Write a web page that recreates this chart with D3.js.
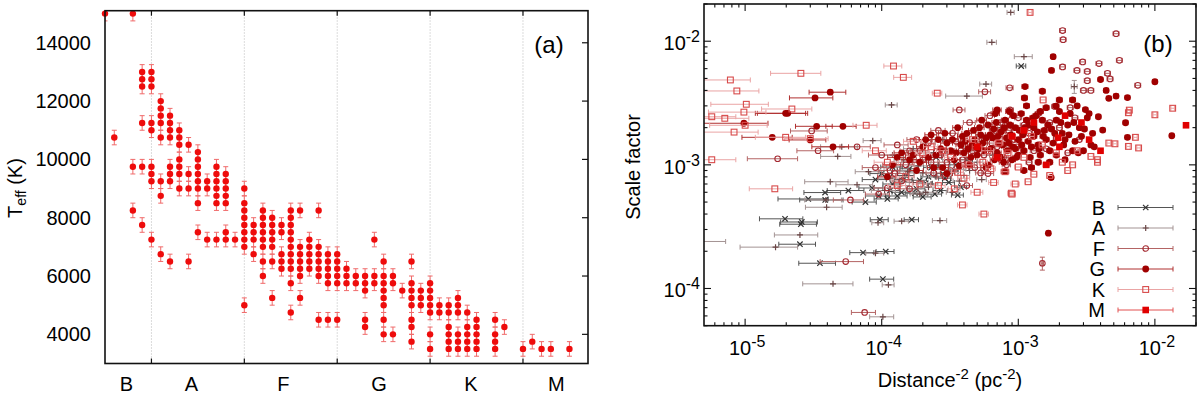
<!DOCTYPE html>
<html lang="en">
<head>
<meta charset="utf-8">
<title>Teff and scale factor</title>
<script src="https://cdn.jsdelivr.net/npm/d3@7"></script>
<style>
  body { margin: 0; background: #fff; }
  svg text { font-family: "Liberation Sans", Arial, sans-serif; fill: #000; }
</style>
</head>
<body>
<div id="chart"></div>
<script>
// ---------------------------------------------------------------
// panel (a) data: Teff per spectral subtype (B0 = 0, A0 = 10, ...)
var classNames = ["B", "A", "F", "G", "K", "M"];
var classLabelAt = [7.3, 14.3, 24.2, 34.5, 44.4, 53.6];
var classBounds = [10, 20, 30, 40, 50];
var teffTicks = [4000, 6000, 8000, 10000, 12000, 14000];
var teffErr = 250;
var teffBySubtype = [
  [5, [15000]],
  [6, [10750]],
  [8, [15000, 9750, 8250]],
  [9, [13000, 12750, 12500, 11250, 9750, 7750]],
  [10, [13000, 12750, 12500, 11250, 11000, 9750, 9500, 9250, 7250]],
  [11, [12000, 11750, 11500, 11250, 10750, 9250, 8750, 6750]],
  [12, [11500, 11250, 11000, 10750, 9750, 9500, 9250, 6500]],
  [13, [11000, 10750, 10500, 10000, 9750, 9500, 9000]],
  [14, [10500, 9500, 9000, 6500]],
  [15, [10250, 10000, 9750, 9500, 9250, 9000, 8500, 7500]],
  [16, [9250, 9000, 7250]],
  [17, [9750, 9500, 9250, 9000, 8750, 8500, 7250]],
  [18, [9500, 9250, 9000, 8750, 8500, 7500, 7250]],
  [19, [7250]],
  [20, [9000, 8500, 8250, 8000, 7750, 7500, 7250, 7000, 5000]],
  [21, [7750, 7500, 7250, 6750]],
  [22, [8250, 8000, 7750, 7500, 7250, 7000, 6500, 6000]],
  [23, [8000, 7750, 7500, 7250, 7000, 6500, 5250]],
  [24, [7750, 7500, 6750, 6500, 6250]],
  [25, [8250, 8000, 7750, 7500, 7250, 7000, 6750, 6500, 6250, 5750, 4750]],
  [26, [8250, 7000, 6750, 6500, 6250, 6000, 5250]],
  [27, [7250, 7000, 6750, 6500, 6250]],
  [28, [8250, 7000, 6750, 6500, 6250, 6000, 4500]],
  [29, [6750, 6500, 6250, 6000, 5750, 4500]],
  [30, [6750, 6500, 6250, 6000, 5750, 4500]],
  [31, [6250, 6000, 5750]],
  [32, [6000, 5750]],
  [33, [6000, 5750, 5500, 4500, 4250]],
  [34, [7250, 6000, 5750]],
  [35, [6500, 6000, 5750, 5500, 5250, 5000, 4500, 4000]],
  [36, [6000, 5750, 4000]],
  [37, [5500]],
  [38, [6500, 5750, 5500, 5250, 5000, 4500, 4250, 3750]],
  [39, [5500, 5250, 5000]],
  [40, [5750, 5500, 5250, 5000, 4750, 4000, 3500]],
  [41, [5000, 4750]],
  [42, [5000, 4750, 4250, 4000, 3750, 3500]],
  [43, [5250, 5000, 4750, 4000, 3750, 3500]],
  [44, [4750, 4250, 4000, 3750, 3500]],
  [45, [4500, 4250, 4000, 3750, 3500]],
  [47, [4500, 4000, 3750, 3500]],
  [48, [4250]],
  [50, [3500]],
  [51, [3750]],
  [52, [3500]],
  [53, [3500]],
  [55, [3500]]
];

// ---------------------------------------------------------------
// panel (b) data: [distance^-2, scale factor, rel. x error, rel. y error]
var starsB = [
  [1.96e-5,3.66e-4,.35],[2.56e-5,3.31e-4,.3],[2.6e-5,3.45e-4,.3],[2.52e-5,2.28e-4,.3],
  [3.53e-5,1.6e-4,.3],[7.3e-5,1.95e-4,.2],[1.07e-4,1.99e-4,.15],[1.02e-4,1.19e-4,.2],
  [9.7e-5,3.6e-4,.15],[3.86e-5,5.2e-4,.35],[2.9e-5,5.3e-4,.4],[7.6e-5,5.0e-4,.2],
  [3.85e-5,5.97e-4,.3],[5.7e-5,6.2e-4,.3],[1.66e-4,3.6e-4,.12],[1.05e-3,6.3e-3,.08],
  [1.2e-4,7e-4,.15],[1.5e-4,8.2e-4,.15],[1.9e-4,7.5e-4,.12],[2.3e-4,9.5e-4,.12],
  [1.4e-4,6.0e-4,.15],[2.8e-4,8.5e-4,.1],[3.5e-4,1.0e-3,.1],[1.1e-4,5.3e-4,.2],
  [1.8e-4,6.4e-4,.15],[2.5e-4,1.15e-3,.1],[3.1e-4,7.2e-4,.1],[4.2e-4,1.1e-3,.1],
  [9.0e-5,7.6e-4,.2],[8.5e-5,6.5e-4,.2],[1.0e-4,8.5e-4,.18],[1.3e-4,5.6e-4,.18],
  [1.6e-4,9.3e-4,.15],[2.0e-4,5.5e-4,.15],[2.2e-4,8.0e-4,.12],[2.7e-4,6.2e-4,.12],
  [3.3e-4,8.8e-4,.1],[3.8e-4,6.6e-4,.1],[1.2e-4,9.6e-4,.18],[9.5e-5,5.6e-4,.2],
  [1.15e-4,6.2e-4,.18],[1.45e-4,7.6e-4,.15],[1.75e-4,5.9e-4,.15],[2.1e-4,7.1e-4,.12],
  [2.45e-4,5.8e-4,.12],[2.9e-4,7.8e-4,.1],[3.6e-4,5.7e-4,.1]
];
var starsA = [
  [4.76e-5,1.17e-3,.25],[5.1e-5,1.40e-3,.3],[8.6e-5,1.57e-3,.15],[4.2e-5,7.3e-4,.35],
  [6.6e-5,6.9e-4,.3],[3.95e-5,4.54e-4,.3],[3.9e-5,5.2e-4,.3],[2.52e-5,2.71e-4,.35],
  [1.67e-5,2.16e-4,.45],[4.4e-5,1.09e-4,.4],[1.12e-4,1.07e-4,.1],[1.02e-4,5.9e-5,.2],
  [9.0e-5,1.93e-4,.15],[9.4e-5,3.4e-4,.1],[1.4e-4,3.5e-4,.12],[2.67e-4,3.54e-4,.12],
  [8.8e-4,1.71e-2,.06],[6.4e-4,9.8e-3,.08],[1.10e-3,7.5e-3,.15],[4.2e-4,3.6e-3,.3],
  [5.8e-4,4.5e-3,.1],[1.18e-4,3.05e-3,.1],[4.5e-6,2.4e-4,.6],[2.57e-3,4.3e-3,.05,.12],
  [1.3e-4,9e-4,.2],[1.6e-4,1.05e-3,.2],[2.0e-4,8.6e-4,.2],[2.4e-4,1.25e-3,.15],
  [1.7e-4,7.2e-4,.2],[3.0e-4,1.3e-3,.12],[3.6e-4,9.2e-4,.15],[4.5e-4,1.35e-3,.1],
  [5.5e-4,1.7e-3,.1],[2.1e-4,6.0e-4,.2],[1.2e-4,1.2e-3,.2],[6.5e-4,1.2e-3,.1],
  [7.5e-4,2.0e-3,.1],[2.8e-4,1.6e-3,.12],[8.0e-5,8.8e-4,.2],[1.05e-4,6.2e-4,.2],
  [1.45e-4,1.1e-3,.15],[1.9e-4,5.8e-4,.15],[2.3e-4,7.0e-4,.12],[2.6e-4,1.0e-3,.12],
  [3.3e-4,6.0e-4,.1],[4.0e-4,8.2e-4,.1],[5.0e-4,1.05e-3,.1],[1.7e-4,1.35e-3,.15],
  [1.15e-4,7.8e-4,.18],[1.35e-4,6.8e-4,.18],[1.55e-4,8.8e-4,.15],[1.85e-4,9.8e-4,.15],
  [2.2e-4,6.6e-4,.12],[2.5e-4,8.0e-4,.12],[3.1e-4,1.1e-3,.1],[3.7e-4,7.4e-4,.1],
  [4.4e-4,9.0e-4,.1],[5.4e-4,7.6e-4,.08]
];
var starsF = [
  [3.07e-5,1.88e-3,.3],[3.42e-5,1.30e-3,.3],[6.6e-5,1.40e-3,.25],[1.73e-5,1.12e-3,.4],
  [5.45e-5,1.65e-4,.35],[7.5e-5,6.4e-5,.2],[5.9e-5,5.2e-4,.25],[1.5e-3,1.6e-4,.02,.12],
  [2.11e-3,1.22e-2,.05],[2.13e-3,1.03e-2,.05],[5.2e-3,1.15e-2,.05],[5.5e-3,7.0e-3,.05],
  [2.11e-3,6.2e-3,.05],[2.96e-3,6.8e-3,.05],[2.69e-3,5.8e-3,.05],[3.2e-3,5.7e-3,.05],
  [3.9e-3,6.6e-3,.05],[3.2e-3,4.8e-3,.05],[4.5e-3,5.5e-3,.05],[4.7e-3,4.95e-3,.05],
  [7.5e-3,4.4e-3,.05],[3.0e-3,4.0e-3,.05],[3.4e-3,4.0e-3,.05],[8.65e-4,4.2e-3,.06],
  [5.7e-4,3.9e-3,.1],[3.7e-4,2.78e-3,.1],[8.7e-4,2.78e-3,.06],[1.85e-3,2.97e-3,.05],
  [1.0e-4,1.2e-3,.2],[1.3e-4,1.45e-3,.2],[1.25e-4,8.5e-4,.2],[1.6e-4,1.3e-3,.15],
  [2.0e-4,1.1e-3,.15],[2.2e-4,1.5e-3,.12],[2.6e-4,1.9e-3,.12],[3.3e-4,1.8e-3,.1],
  [3.8e-4,1.3e-3,.1],[4.4e-4,2.2e-3,.1],[5.2e-4,1.55e-3,.1],[6.2e-4,2.5e-3,.08],
  [7.0e-4,1.4e-3,.08],[8.5e-4,1.9e-3,.07],[1.0e-3,2.4e-3,.06],[1.2e-3,1.8e-3,.06],
  [1.4e-3,2.6e-3,.05],[1.7e-3,2.2e-3,.05],[2.4e-3,2.9e-3,.05],[1.6e-4,6.4e-4,.15],
  [9.0e-5,9.5e-4,.2],[2.9e-4,8.0e-4,.12],[4.8e-4,9.5e-4,.1],[6.0e-4,8.5e-4,.1],
  [1.1e-4,6.5e-4,.2],[9.5e-5,5.8e-4,.2],[1.4e-4,7.4e-4,.15],[1.8e-4,1.6e-3,.15],
  [2.4e-4,8.6e-4,.12],[3.0e-4,1.05e-3,.12],[3.5e-4,1.55e-3,.1],[4.2e-4,6.8e-4,.1],
  [5.6e-4,1.2e-3,.1],[6.8e-4,1.9e-3,.08],[7.8e-4,1.15e-3,.08],[9.3e-4,1.6e-3,.07],
  [1.1e-3,2.1e-3,.06],[1.3e-3,1.3e-3,.06],[2.0e-3,2.0e-3,.05],[2.6e-3,2.4e-3,.05],
  [1.15e-4,9.0e-4,.18],[1.5e-4,1.0e-3,.15],[1.9e-4,1.3e-3,.15],[2.3e-4,1.05e-3,.12],
  [2.7e-4,1.2e-3,.12],[3.2e-4,9.0e-4,.1],[3.9e-4,1.1e-3,.1],[4.6e-4,1.3e-3,.1],
  [5.3e-4,8.6e-4,.08],[6.4e-4,1.5e-3,.08],[7.4e-4,2.2e-3,.07],[8.2e-4,1.0e-3,.07],
  [9.8e-4,1.4e-3,.06],[1.2e-3,1.05e-3,.05],[1.6e-3,1.35e-3,.05],[1.9e-3,1.65e-3,.05],
  [2.3e-3,1.25e-3,.04],[2.8e-3,1.6e-3,.04]
];
var starsG = [
  [4.2e-5,3.87e-3,.3],[3.25e-5,3.48e-3,.35],[1.98e-5,2.61e-3,.4],[2.05e-5,2.61e-3,.4],
  [9.8e-6,2.17e-3,.5],[3.34e-5,2.05e-3,.3],[5.2e-5,2.05e-3,.25],[1.58e-5,1.67e-3,.4],
  [3.0e-5,1.59e-3,.3],[4.4e-5,1.40e-3,.3],[1.66e-3,2.8e-4,.03],[1.8e-3,7.5e-3,.04],
  [1.75e-3,5.8e-3,.04],[4.0e-3,4.9e-3,.04],[1.0e-2,4.7e-3,.04],[1.12e-3,4.3e-3,.05],
  [4.4e-3,4.0e-3,.04],[1.5e-3,3.94e-3,.05],[1.11e-3,3.48e-3,.05],[5.2e-3,3.6e-3,.04],
  [4.6e-3,3.45e-3,.04],[6.3e-3,3.5e-3,.04],[1.89e-3,2.99e-3,.05],[1.33e-2,1.72e-3,.03],
  [6.1e-3,2.19e-3,.04],[6.3e-3,1.67e-3,.04],[4.15e-3,1.91e-3,.04],[3.86e-3,2.45e-3,.04],
  [1.74e-3,7.9e-4,.04],[7.0e-4,2.78e-3,.07],[2.0e-3,3.35e-3,.05],[2.5e-3,3.35e-3,.05],
  [2.0e-4,1.4e-3,.1],[2.5e-4,1.2e-3,.1],[3.0e-4,1.5e-3,.1],[3.4e-4,1.1e-3,.1],
  [3.9e-4,1.7e-3,.08],[4.3e-4,1.35e-3,.08],[4.7e-4,1.9e-3,.08],[5.0e-4,1.2e-3,.08],
  [5.5e-4,1.5e-3,.08],[6.0e-4,2.1e-3,.07],[6.5e-4,1.65e-3,.07],[7.0e-4,1.25e-3,.07],
  [7.5e-4,1.85e-3,.07],[8.0e-4,2.3e-3,.06],[8.5e-4,1.5e-3,.06],[9.0e-4,1.1e-3,.06],
  [9.5e-4,2.0e-3,.06],[1.0e-3,1.6e-3,.06],[1.05e-3,2.6e-3,.05],[1.1e-3,1.3e-3,.05],
  [1.2e-3,2.1e-3,.05],[1.3e-3,1.7e-3,.05],[1.35e-3,2.5e-3,.05],[1.45e-3,1.2e-3,.05],
  [1.55e-3,1.9e-3,.05],[1.6e-3,2.9e-3,.05],[1.8e-3,1.5e-3,.05],[1.9e-3,2.3e-3,.05],
  [2.1e-3,1.8e-3,.04],[2.2e-3,1.1e-3,.04],[2.4e-3,2.6e-3,.04],[2.6e-3,1.55e-3,.04],
  [2.8e-3,2.0e-3,.04],[3.0e-3,1.3e-3,.04],[3.2e-3,2.4e-3,.04],[3.5e-3,1.8e-3,.04],
  [1.6e-4,1.1e-3,.12],[2.8e-4,9.5e-4,.1],[5.8e-4,9.5e-4,.08],[1.25e-3,9.5e-4,.05],
  [1.7e-3,1.05e-3,.05],[6.8e-4,2.6e-3,.07],[3.6e-4,2.0e-3,.08],[2.3e-4,1.75e-3,.1],
  [1.15e-3,3.0e-3,.05],[2.7e-3,3.0e-3,.04],[1.4e-3,1.45e-3,.05],[9.5e-4,1.35e-3,.06],
  [5.3e-4,1.75e-3,.08],[7.8e-4,1.05e-3,.07],[1.2e-4,1.0e-3,.15],[1.4e-4,1.25e-3,.12],
  [1.8e-4,9.0e-4,.12],[2.2e-4,1.15e-3,.1],[2.6e-4,1.6e-3,.1],[3.2e-4,1.3e-3,.1],
  [3.7e-4,9.8e-4,.08],[4.1e-4,1.55e-3,.08],[4.5e-4,1.15e-3,.08],[5.2e-4,2.0e-3,.08],
  [5.6e-4,1.3e-3,.08],[6.2e-4,1.75e-3,.07],[6.7e-4,1.1e-3,.07],[7.2e-4,1.5e-3,.07],
  [7.9e-4,2.0e-3,.06],[8.3e-4,1.3e-3,.06],[8.8e-4,1.75e-3,.06],[9.2e-4,2.5e-3,.06],
  [1.0e-3,1.2e-3,.05],[1.08e-3,1.75e-3,.05],[1.15e-3,2.3e-3,.05],[1.25e-3,1.4e-3,.05],
  [1.3e-3,2.0e-3,.05],[1.5e-3,2.3e-3,.05],[1.6e-3,1.6e-3,.05],[1.75e-3,1.95e-3,.05],
  [2.0e-3,2.7e-3,.04],[2.3e-3,2.1e-3,.04],[2.5e-3,1.3e-3,.04],[2.9e-3,1.7e-3,.04],
  [3.1e-3,2.8e-3,.04],[3.4e-3,1.45e-3,.04],[1.9e-3,1.2e-3,.05],[1.1e-3,9.0e-4,.05],
  [6.0e-4,1.0e-3,.07],[4.0e-4,1.25e-3,.08],[3.0e-4,8.5e-4,.1],[8.0e-4,8.8e-4,.06],
  [1.4e-3,1.05e-3,.05],[2.2e-3,1.6e-3,.04],
  [1.1e-4,8.0e-4,.15],[1.3e-4,1.15e-3,.15],[1.7e-4,1.2e-3,.12],[1.9e-4,1.05e-3,.12],
  [2.1e-4,1.6e-3,.1],[2.4e-4,9.5e-4,.1],[2.7e-4,1.35e-3,.1],[2.9e-4,1.8e-3,.1],
  [3.3e-4,1.6e-3,.1],[3.5e-4,1.25e-3,.08],[3.8e-4,1.45e-3,.08],[4.2e-4,1.8e-3,.08],
  [4.4e-4,1.0e-3,.08],[4.8e-4,1.6e-3,.08],[5.1e-4,1.35e-3,.08],[5.4e-4,2.3e-3,.08],
  [5.8e-4,1.65e-3,.07],[6.3e-4,1.35e-3,.07],[6.6e-4,1.95e-3,.07],[7.1e-4,1.7e-3,.07],
  [7.4e-4,1.15e-3,.07],[7.7e-4,1.45e-3,.06],[8.2e-4,1.65e-3,.06],[8.7e-4,2.1e-3,.06],
  [9.1e-4,1.4e-3,.06],[9.7e-4,1.15e-3,.06],[1.02e-3,1.9e-3,.05],[1.06e-3,1.45e-3,.05],
  [1.12e-3,2.0e-3,.05],[1.18e-3,1.55e-3,.05],[1.22e-3,1.15e-3,.05],[1.28e-3,2.4e-3,.05],
  [1.38e-3,1.85e-3,.05],[1.42e-3,1.35e-3,.05],[1.52e-3,1.7e-3,.05],[1.65e-3,2.1e-3,.05],
  [1.7e-3,1.3e-3,.05],[1.85e-3,1.8e-3,.04],[2.05e-3,2.2e-3,.04],[2.15e-3,1.45e-3,.04],
  [2.35e-3,1.75e-3,.04],[2.55e-3,2.2e-3,.04],[2.75e-3,1.25e-3,.04],[3.05e-3,1.95e-3,.04],
  [3.3e-3,2.6e-3,.04],[3.6e-3,1.4e-3,.04],[8.6e-4,2.7e-3,.06],[1.45e-3,2.7e-3,.05],
  [4.6e-4,1.45e-3,.08],[6.9e-4,2.2e-3,.07]
];
var starsK = [
  [7.8e-6,4.86e-3,.4],[2.56e-5,5.5e-3,.4],[8.7e-6,3.96e-3,.45],[1.02e-5,3.09e-3,.45],
  [2.2e-5,2.83e-3,.4],[9.8e-6,2.67e-3,.45],[5.7e-6,2.45e-3,.5],[7.1e-6,2.38e-3,.5],
  [1.0e-5,2.09e-3,.45],[7.7e-5,2.09e-3,.2],[8.3e-6,1.84e-3,.5],[1.98e-5,1.67e-3,.4],
  [3.0e-5,1.63e-3,.35],[5.7e-6,1.10e-3,.5],[1.65e-5,6.4e-4,.35],[1.22e-3,1.71e-2,.03],
  [6.5e-3,2.77e-3,.03],[6.4e-3,2.64e-3,.03],[1.0e-2,2.54e-3,.03],[1.35e-2,2.87e-3,.03],
  [7.2e-3,1.67e-3,.03],[6.4e-3,1.41e-3,.03],[7.6e-3,1.37e-3,.03],[4.6e-3,1.50e-3,.03],
  [5.1e-3,1.48e-3,.03],[3.8e-3,1.1e-3,.04],[3.8e-3,1.05e-3,.04],[3.4e-3,1.17e-3,.04],
  [1.18e-3,7.3e-4,.05],[8.9e-4,5.9e-4,.06],[5.6e-4,4.0e-4,.08],[3.9e-4,4.74e-4,.08],
  [9.0e-4,5.8e-4,.06],[1.52e-3,3.35e-3,.05],[2.55e-4,3.8e-3,.08],[1.22e-4,6.3e-3,.15],
  [1.44e-4,5.1e-3,.15],[1.1e-4,1.05e-3,.2],[1.5e-4,8.0e-4,.15],[2.0e-4,1.25e-3,.12],
  [2.6e-4,6.8e-4,.12],[3.2e-4,1.15e-3,.1],[4.0e-4,7.8e-4,.1],[4.6e-4,1.6e-3,.1],
  [5.5e-4,1.05e-3,.08],[6.6e-4,7.2e-4,.08],[7.2e-4,1.5e-3,.07],[8.0e-4,8.8e-4,.07],
  [1.1e-3,1.15e-3,.05],[1.3e-3,8.4e-4,.05],[1.9e-3,1.25e-3,.05],[2.3e-3,9.0e-4,.04],
  [2.7e-3,1.3e-3,.04],[1.7e-4,1.55e-3,.15],[9.0e-5,1.3e-3,.2],[2.3e-4,1.4e-3,.12],
  [3.6e-4,8.7e-4,.1],[5.0e-4,6.0e-4,.1],[6.0e-4,1.3e-3,.1],[9.5e-4,7.0e-4,.07],
  [1.5e-3,1.45e-3,.05],[2.1e-3,1.05e-3,.05],[1.3e-4,6.8e-4,.15],[1.9e-4,7.0e-4,.12],
  [2.8e-4,1.3e-3,.1],[3.4e-4,6.4e-4,.1],[4.3e-4,1.0e-3,.1],[6.3e-4,9.3e-4,.08],
  [8.4e-4,1.25e-3,.07],[1.0e-3,9.6e-4,.06],[1.25e-3,1.7e-3,.05],[1.7e-3,8.2e-4,.05],
  [2.5e-3,1.0e-3,.04]
];
var starsM = [
  [1.69e-2,2.09e-3,.03],[1.96e-3,1.66e-3,.04],[5.0e-4,1.4e-3,.08],[9.0e-4,1.7e-3,.06],
  [1.3e-3,2.2e-3,.05],[2.0e-3,1.4e-3,.04],[2.9e-3,2.2e-3,.04],[3.3e-3,1.6e-3,.04],
  [1.6e-3,1.0e-3,.05],[1.1e-3,1.9e-3,.05],[7.0e-4,1.15e-3,.07],[4.0e-3,1.3e-3,.04],
  [2.2e-3,2.5e-3,.04]
];
var scaleTicks = [1e-4, 1e-3, 1e-2];
var distTicks = [1e-5, 1e-4, 1e-3, 1e-2];

// ---------------------------------------------------------------
var width = 1200, height = 394;
var svg = d3.select("#chart").append("svg")
    .attr("width", width)
    .attr("height", height);

//-----------------------------------------
// PANEL (a)
var xa = d3.scaleLinear().domain([5, 57]).range([105, 588]);
var ya = d3.scaleLinear().domain([3000, 15100]).range([363.5, 10.7]);

svg.append("clipPath").attr("id", "clipA")
  .append("rect")
    .attr("x", xa.range()[0]).attr("y", ya.range()[1])
    .attr("width", xa.range()[1] - xa.range()[0])
    .attr("height", ya.range()[0] - ya.range()[1]);

var ga = svg.append("g");

ga.selectAll("line.grid")
  .data(classBounds)
  .enter().append("line")
    .attr("class", "grid")
    .attr("x1", function(d) { return xa(d); })
    .attr("x2", function(d) { return xa(d); })
    .attr("y1", ya.range()[0])
    .attr("y2", ya.range()[1])
    .attr("stroke", "#b8b8b8")
    .attr("stroke-width", 1)
    .attr("stroke-dasharray", "1,2");

var teffPoints = [];
teffBySubtype.forEach(function(c) {
  c[1].forEach(function(t) { teffPoints.push({s: c[0], t: t}); });
});

var bars = ga.append("g").attr("clip-path", "url(#clipA)")
    .attr("stroke", "#f06a6a").attr("stroke-width", 1);
teffPoints.forEach(function(d) {
  var x = xa(d.s), y0 = ya(d.t - teffErr), y1 = ya(d.t + teffErr);
  bars.append("line").attr("x1", x).attr("x2", x).attr("y1", y0).attr("y2", y1);
  bars.append("line").attr("x1", x - 2.5).attr("x2", x + 2.5).attr("y1", y0).attr("y2", y0);
  bars.append("line").attr("x1", x - 2.5).attr("x2", x + 2.5).attr("y1", y1).attr("y2", y1);
});

ga.append("g").selectAll("circle")
  .data(teffPoints)
  .enter().append("circle")
    .attr("cx", function(d) { return xa(d.s); })
    .attr("cy", function(d) { return ya(d.t); })
    .attr("r", 3.2)
    .attr("fill", "#ee0c0c");

// frame and ticks
ga.append("rect")
    .attr("x", xa.range()[0]).attr("y", ya.range()[1])
    .attr("width", xa.range()[1] - xa.range()[0])
    .attr("height", ya.range()[0] - ya.range()[1])
    .attr("fill", "none").attr("stroke", "#111").attr("stroke-width", 1.6);

teffTicks.forEach(function(t) {
  ga.append("line")
    .attr("x1", xa.range()[1]).attr("x2", xa.range()[1] - 6)
    .attr("y1", ya(t)).attr("y2", ya(t))
    .attr("stroke", "#111").attr("stroke-width", 1.2);
  ga.append("text")
    .attr("x", 91).attr("y", ya(t) + 7)
    .attr("text-anchor", "end")
    .attr("font-size", 20)
    .text(t);
});
classBounds.forEach(function(b) {
  ga.append("line")
    .attr("x1", xa(b)).attr("x2", xa(b))
    .attr("y1", ya.range()[0]).attr("y2", ya.range()[0] - 5)
    .attr("stroke", "#111").attr("stroke-width", 1.2);
  ga.append("line")
    .attr("x1", xa(b)).attr("x2", xa(b))
    .attr("y1", ya.range()[1]).attr("y2", ya.range()[1] + 5)
    .attr("stroke", "#111").attr("stroke-width", 1.2);
});
classNames.forEach(function(n, i) {
  ga.append("text")
    .attr("x", xa(classLabelAt[i])).attr("y", 391)
    .attr("text-anchor", "middle")
    .attr("font-size", 20)
    .text(n);
});

var teffTitle = ga.append("text")
    .attr("transform", "translate(22,188) rotate(-90)")
    .attr("text-anchor", "middle")
    .attr("font-size", 20);
teffTitle.append("tspan").text("T");
teffTitle.append("tspan").attr("font-size", 14).attr("dy", 4).text("eff");
teffTitle.append("tspan").attr("dy", -4).text(" (K)");

ga.append("text")
    .attr("x", 549).attr("y", 53)
    .attr("text-anchor", "middle")
    .attr("font-size", 24)
    .text("(a)");

//-----------------------------------------
// PANEL (b)
var xb = d3.scaleLog().domain([5e-6, 2e-2]).range([704, 1196]);
var yb = d3.scaleLog().domain([5e-5, 2e-2]).range([325.7, 4]);

svg.append("clipPath").attr("id", "clipB")
  .append("rect")
    .attr("x", xb.range()[0]).attr("y", yb.range()[1])
    .attr("width", xb.range()[1] - xb.range()[0])
    .attr("height", yb.range()[0] - yb.range()[1]);

var series = [
  {name: "B", data: starsB, shape: "x",      color: "#333333", bar: "#555555"},
  {name: "A", data: starsA, shape: "plus",   color: "#6a4646", bar: "#a39393"},
  {name: "F", data: starsF, shape: "circle", color: "#a42830", bar: "#b46464"},
  {name: "G", data: starsG, shape: "disc",   color: "#a00000", bar: "#b03030"},
  {name: "K", data: starsK, shape: "square", color: "#d84a4a", bar: "#eaa4a4"},
  {name: "M", data: starsM, shape: "box",    color: "#e00000", bar: "#e25050"}
];

function drawSymbol(g, shape, x, y, color) {
  if (shape === "x") {
    g.append("path").attr("d", "M" + (x-2.7) + "," + (y-2.7) + "L" + (x+2.7) + "," + (y+2.7) +
      "M" + (x-2.7) + "," + (y+2.7) + "L" + (x+2.7) + "," + (y-2.7))
      .attr("stroke", color).attr("stroke-width", 1.2).attr("fill", "none");
  } else if (shape === "plus") {
    g.append("path").attr("d", "M" + (x-3) + "," + y + "L" + (x+3) + "," + y +
      "M" + x + "," + (y-3) + "L" + x + "," + (y+3))
      .attr("stroke", color).attr("stroke-width", 1.2).attr("fill", "none");
  } else if (shape === "circle") {
    g.append("circle").attr("cx", x).attr("cy", y).attr("r", 2.8)
      .attr("fill", "none").attr("stroke", color).attr("stroke-width", 1.1);
  } else if (shape === "disc") {
    g.append("circle").attr("cx", x).attr("cy", y).attr("r", 3.4)
      .attr("fill", color);
  } else if (shape === "square") {
    g.append("rect").attr("x", x - 2.9).attr("y", y - 2.9).attr("width", 5.8).attr("height", 5.8)
      .attr("fill", "none").attr("stroke", color).attr("stroke-width", 1.1);
  } else {
    g.append("rect").attr("x", x - 3.3).attr("y", y - 3.3).attr("width", 6.6).attr("height", 6.6)
      .attr("fill", color);
  }
}

function hBar(g, x0, x1, y) {
  g.append("line").attr("x1", x0).attr("x2", x1).attr("y1", y).attr("y2", y);
  g.append("line").attr("x1", x0).attr("x2", x0).attr("y1", y - 2.5).attr("y2", y + 2.5);
  g.append("line").attr("x1", x1).attr("x2", x1).attr("y1", y - 2.5).attr("y2", y + 2.5);
}

var gb = svg.append("g");
var plotB = gb.append("g").attr("clip-path", "url(#clipB)");

series.forEach(function(s) {
  var g = plotB.append("g");
  var eg = g.append("g").attr("stroke", s.bar).attr("stroke-width", 1);
  s.data.forEach(function(d) {
    hBar(eg, xb(d[0] * (1 - d[2])), xb(d[0] * (1 + d[2])), yb(d[1]));
    if (d[3]) {
      var x = xb(d[0]), y0 = yb(d[1] * (1 - d[3])), y1 = yb(d[1] * (1 + d[3]));
      eg.append("line").attr("x1", x).attr("x2", x).attr("y1", y0).attr("y2", y1);
      eg.append("line").attr("x1", x - 2.5).attr("x2", x + 2.5).attr("y1", y0).attr("y2", y0);
      eg.append("line").attr("x1", x - 2.5).attr("x2", x + 2.5).attr("y1", y1).attr("y2", y1);
    }
  });
  s.data.forEach(function(d) {
    drawSymbol(g, s.shape, xb(d[0]), yb(d[1]), s.color);
  });
});

// frame
gb.append("rect")
    .attr("x", xb.range()[0]).attr("y", yb.range()[1])
    .attr("width", xb.range()[1] - xb.range()[0])
    .attr("height", yb.range()[0] - yb.range()[1])
    .attr("fill", "none").attr("stroke", "#111").attr("stroke-width", 1.6);

// log ticks, inward on all sides
var tickG = gb.append("g").attr("stroke", "#111").attr("stroke-width", 1.1);
for (var e = -6; e <= -1; e++) {
  for (var m = 1; m <= 9; m++) {
    var v = m * Math.pow(10, e);
    var len = m === 1 ? 7 : 3.5;
    if (v >= xb.domain()[0] && v <= xb.domain()[1]) {
      var px = xb(v);
      tickG.append("line").attr("x1", px).attr("x2", px)
        .attr("y1", yb.range()[0]).attr("y2", yb.range()[0] - len);
      tickG.append("line").attr("x1", px).attr("x2", px)
        .attr("y1", yb.range()[1]).attr("y2", yb.range()[1] + len);
    }
    if (v >= yb.domain()[0] && v <= yb.domain()[1]) {
      var py = yb(v);
      tickG.append("line").attr("y1", py).attr("y2", py)
        .attr("x1", xb.range()[0]).attr("x2", xb.range()[0] + len);
      tickG.append("line").attr("y1", py).attr("y2", py)
        .attr("x1", xb.range()[1]).attr("x2", xb.range()[1] - len);
    }
  }
}

function powLabel(text, v) {
  text.append("tspan").text("10");
  text.append("tspan").attr("dy", -8).attr("font-size", 16)
    .text("-" + Math.round(-Math.log10(v)));
}

scaleTicks.forEach(function(v) {
  var t = gb.append("text")
    .attr("x", 700).attr("y", yb(v) + 9)
    .attr("text-anchor", "end")
    .attr("font-size", 20);
  powLabel(t, v);
});
distTicks.forEach(function(v) {
  var t = gb.append("text")
    .attr("x", xb(v) + 2).attr("y", 355)
    .attr("text-anchor", "middle")
    .attr("font-size", 20);
  powLabel(t, v);
});

gb.append("text")
    .attr("transform", "translate(640,167) rotate(-90)")
    .attr("text-anchor", "middle")
    .attr("font-size", 20)
    .text("Scale factor");

var distTitle = gb.append("text")
    .attr("x", 950).attr("y", 387)
    .attr("text-anchor", "middle")
    .attr("font-size", 20);
distTitle.append("tspan").text("Distance");
distTitle.append("tspan").attr("dy", -8).attr("font-size", 15).text("-2");
distTitle.append("tspan").attr("dy", 8).text(" (pc");
distTitle.append("tspan").attr("dy", -8).attr("font-size", 15).text("-2");
distTitle.append("tspan").attr("dy", 8).text(")");

gb.append("text")
    .attr("x", 1158).attr("y", 52)
    .attr("text-anchor", "middle")
    .attr("font-size", 24)
    .text("(b)");

// legend
var legend = gb.append("g")
  .selectAll("g")
  .data(series)
  .enter().append("g")
    .attr("transform", function(d, i) { return "translate(0," + (207.5 + i * 20.5) + ")"; });

legend.append("text")
    .attr("x", 1105).attr("y", 7)
    .attr("text-anchor", "end")
    .attr("font-size", 20)
    .text(function(d) { return d.name; });

legend.each(function(d) {
  var g = d3.select(this);
  var eg = g.append("g").attr("stroke", d.bar).attr("stroke-width", 1);
  hBar(eg, 1118, 1173, 0);
  drawSymbol(g, d.shape, 1145.7, 0, d.color);
});
</script>
</body>
</html>
